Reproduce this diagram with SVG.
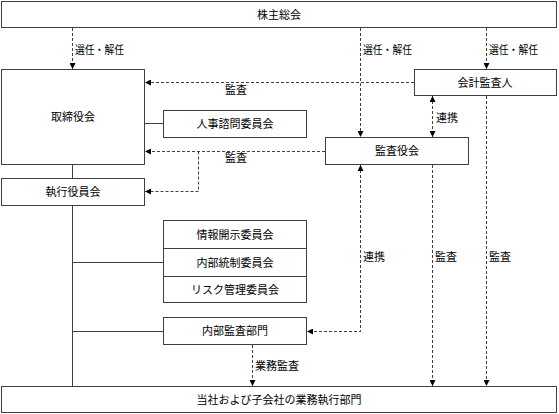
<svg xmlns="http://www.w3.org/2000/svg" width="559" height="414" viewBox="0 0 559 414">
<defs>
<marker id="ah" viewBox="0 0 6 6" refX="6" refY="3" markerWidth="6" markerHeight="6" markerUnits="userSpaceOnUse" orient="auto-start-reverse">
<path d="M0,0 L6,3 L0,6 z" fill="#000"/>
</marker>
<style>
text{font-family:"Noto Sans CJK JP","Noto Sans",sans-serif;font-size:11px;fill:#000}
.box rect{fill:#fff;stroke:#404040;stroke-width:1}
.box text{text-anchor:middle}
.solid{fill:none;stroke:#404040;stroke-width:1}
.dash{fill:none;stroke:#404040;stroke-width:1;stroke-dasharray:3,2}
.lbl{text-anchor:start}
</style>
</defs>
<rect width="559" height="414" fill="#fff"/>
<g id="connectors">
<path class="solid" d="M145,123.5 H163"/>
<path class="solid" d="M72.5,165 V179"/>
<path class="solid" d="M72.5,206 V386"/>
<path class="solid" d="M72.5,262.5 H163"/>
<path class="solid" d="M72.5,331.5 H163"/>
<path class="dash" d="M72.5,28 V69" marker-end="url(#ah)"/>
<path class="dash" d="M360.5,28 V137" marker-end="url(#ah)"/>
<path class="dash" d="M486.5,28 V69" marker-end="url(#ah)"/>
<path class="dash" d="M414,82.5 H145" marker-end="url(#ah)"/>
<path class="dash" d="M432.5,96 V137" marker-start="url(#ah)" marker-end="url(#ah)"/>
<path class="dash" d="M325,151.5 H145" marker-end="url(#ah)"/>
<path class="dash" d="M198.5,151.5 V191.5 H145" marker-end="url(#ah)"/>
<path class="dash" d="M360.5,165 V331.5 H307" marker-start="url(#ah)" marker-end="url(#ah)"/>
<path class="dash" d="M432.5,165 V386" marker-end="url(#ah)"/>
<path class="dash" d="M486.5,96 V386" marker-end="url(#ah)"/>
<path class="dash" d="M252.5,345 V386" marker-end="url(#ah)"/>
<text class="lbl" x="75" y="54" textLength="49" lengthAdjust="spacingAndGlyphs">選任・解任</text>
<text class="lbl" x="363" y="54" textLength="49" lengthAdjust="spacingAndGlyphs">選任・解任</text>
<text class="lbl" x="489" y="54" textLength="49" lengthAdjust="spacingAndGlyphs">選任・解任</text>
<text class="lbl" x="225" y="94">監査</text>
<text class="lbl" x="436" y="122">連携</text>
<text class="lbl" x="225" y="162">監査</text>
<text class="lbl" x="363" y="261">連携</text>
<text class="lbl" x="435" y="261">監査</text>
<text class="lbl" x="489" y="261">監査</text>
<text class="lbl" x="255" y="370">業務監査</text>
</g>
<g id="shareholders" class="box"><rect x="1.5" y="1.5" width="555" height="26"/><text x="279" y="19">株主総会</text></g>
<g id="board" class="box"><rect x="1.5" y="69.5" width="143" height="95"/><text x="73" y="121">取締役会</text></g>
<g id="accounting-auditor" class="box"><rect x="414.5" y="69.5" width="142" height="26"/><text x="485" y="87">会計監査人</text></g>
<g id="hr-committee" class="box"><rect x="163.5" y="110.5" width="143" height="27"/><text x="235" y="128">人事諮問委員会</text></g>
<g id="audit-board" class="box"><rect x="325.5" y="137.5" width="143" height="27"/><text x="397" y="155">監査役会</text></g>
<g id="executive" class="box"><rect x="1.5" y="178.5" width="143" height="27"/><text x="73" y="196">執行役員会</text></g>
<g id="disclosure" class="box"><rect x="163.5" y="220.5" width="143" height="28"/><text x="235" y="239">情報開示委員会</text></g>
<g id="internal-control" class="box"><rect x="163.5" y="248.5" width="143" height="28"/><text x="235" y="267">内部統制委員会</text></g>
<g id="risk" class="box"><rect x="163.5" y="276.5" width="143" height="26"/><text x="235" y="294">リスク管理委員会</text></g>
<g id="internal-audit" class="box"><rect x="163.5" y="317.5" width="143" height="27"/><text x="235" y="335">内部監査部門</text></g>
<g id="operations" class="box"><rect x="1.5" y="386.5" width="555" height="26"/><text x="279" y="404">当社および子会社の業務執行部門</text></g>
</svg>
